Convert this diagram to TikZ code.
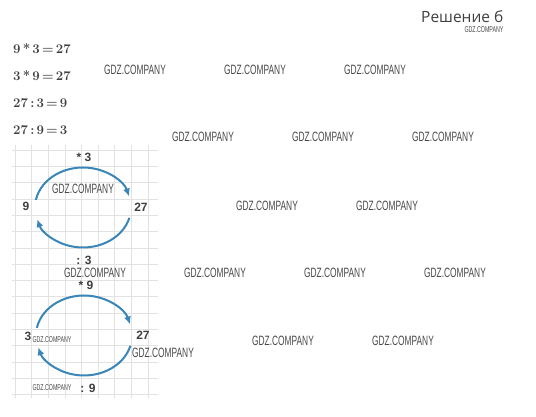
\documentclass[tikz,border=0pt]{standalone}
\usepackage{fontspec}
\usetikzlibrary{arrows.meta}
\setmainfont{Latin Modern Roman}
\newfontfamily\wmfont[FakeStretch=0.62]{Liberation Sans}
\newfontfamily\lblfont{Liberation Sans}
\newfontfamily\headfont{Open Sans}
\definecolor{arcblue}{HTML}{3A86B8}
\definecolor{gridc}{HTML}{E2E2E2}
\definecolor{txt}{HTML}{3F3F3F}
\definecolor{wmc}{HTML}{4A4A4A}
\tikzset{
  wm/.style={font=\wmfont\fontsize{13.5}{14}\selectfont, text=wmc, inner sep=0pt},
  wmsmall/.style={font=\wmfont\fontsize{8.5}{9}\selectfont, text=wmc, inner sep=0pt},
  eq/.style={font=\bfseries\fontsize{13.2}{14}\selectfont, text=txt, inner sep=0pt, anchor=west},
  lbl/.style={font=\lblfont\bfseries\fontsize{12}{13}\selectfont, text=txt, inner sep=0pt},
  arcline/.style={draw=arcblue, line width=2pt, -{Latex[length=8pt,width=7pt]}},
  gridline/.style={draw=gridc, line width=0.6pt}
}
\begin{document}
\begin{tikzpicture}[x=1pt,y=1pt]
\useasboundingbox[fill=white] (0,0) rectangle (536,416);
% grid
\foreach \i in {0,...,8} {
  \draw[gridline] (15+16.6*\i,416-145) -- (15+16.6*\i,416-398);
}
\foreach \j in {0,...,15} {
  \draw[gridline] (12,416-150-16.3*\j) -- (158,416-150-16.3*\j);
}
% heading
\node[font=\headfont\fontsize{15.5}{16}\selectfont, text=txt, inner sep=0pt, anchor=west] (head) at (421,416-17) {Решение б};
\node[wmsmall] (wmh) at (484,416-30) {GDZ.COMPANY};
% equations
\node[eq] (e1) at (13,416-49) {9\,*\,3\,=\,27};
\node[eq] (e2) at (13,416-76) {3\,*\,9\,=\,27};
\node[eq] (e3) at (13,416-103) {27\,:\,3\,=\,9};
\node[eq] (e4) at (13,416-130) {27\,:\,9\,=\,3};
% cycle 1
\coordinate (c1) at (83,416-207.5);
\draw[arcline] ([shift={(169:48 and 40)}]c1) arc[start angle=169, end angle=16, x radius=48, y radius=40];
\draw[arcline] ([shift={(-15:48 and 40)}]c1) arc[start angle=-15, end angle=-163, x radius=48, y radius=40];
\node[lbl] (n9) at (26,416-206) {9};
\node[lbl] (n27) at (141,416-207) {27};
\node[lbl] (m3) at (84,416-157) {* 3};
\node[lbl] (d3) at (84,416-260) {: 3};
% cycle 2
\coordinate (c2) at (84,416-335.5);
\draw[arcline] ([shift={(169:48 and 40)}]c2) arc[start angle=169, end angle=16, x radius=48, y radius=40];
\draw[arcline] ([shift={(-15:48 and 40)}]c2) arc[start angle=-15, end angle=-163, x radius=48, y radius=40];
\node[lbl] (m3b) at (28,416-336) {3};
\node[lbl] (n27b) at (143,416-335) {27};
\node[lbl] (m9) at (86,416-285) {* 9};
\node[lbl] (d9) at (88,416-388) {: 9};
% watermarks
\node[wm] (w1) at (135,416-70) {GDZ.COMPANY};
\node[wm] (w2) at (255,416-70) {GDZ.COMPANY};
\node[wm] (w3) at (375,416-70) {GDZ.COMPANY};
\node[wm] (w4) at (203,416-137) {GDZ.COMPANY};
\node[wm] (w5) at (323,416-137) {GDZ.COMPANY};
\node[wm] (w6) at (443,416-137) {GDZ.COMPANY};
\node[wm] (w7) at (83,416-189) {GDZ.COMPANY};
\node[wm] (w8) at (267,416-206) {GDZ.COMPANY};
\node[wm] (w9) at (387,416-206) {GDZ.COMPANY};
\node[wm] (w10) at (95,416-273) {GDZ.COMPANY};
\node[wm] (w11) at (215,416-273) {GDZ.COMPANY};
\node[wm] (w12) at (335,416-273) {GDZ.COMPANY};
\node[wm] (w13) at (455,416-273) {GDZ.COMPANY};
\node[wm] (w14) at (163,416-353) {GDZ.COMPANY};
\node[wm] (w15) at (283,416-341) {GDZ.COMPANY};
\node[wm] (w16) at (403,416-341) {GDZ.COMPANY};
\node[wmsmall] (w17) at (52,416-340) {GDZ.COMPANY};
\node[wmsmall] (w18) at (52,416-388) {GDZ.COMPANY};
\end{tikzpicture}
\end{document}
